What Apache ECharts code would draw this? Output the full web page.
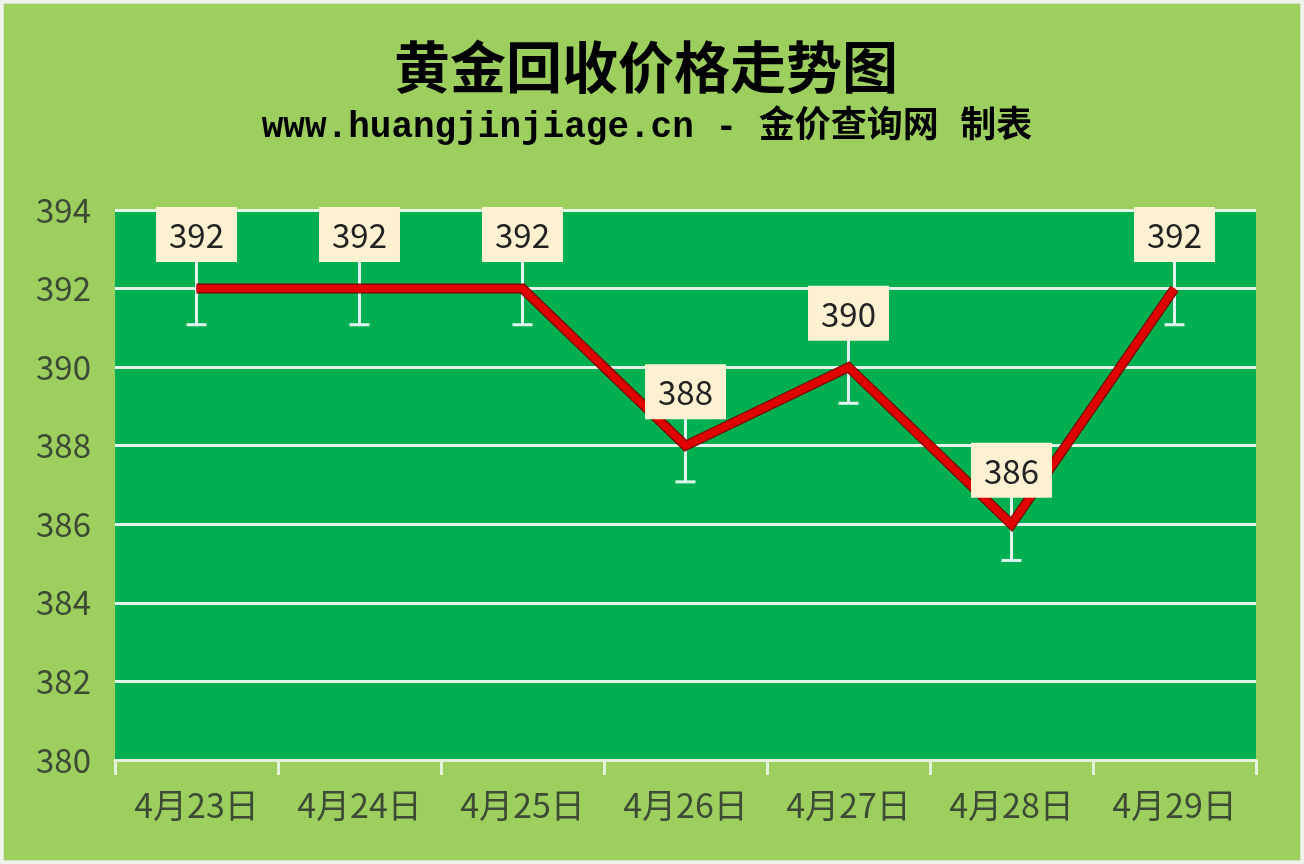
<!DOCTYPE html>
<html>
<head>
<meta charset="utf-8">
<title>黄金回收价格走势图</title>
<script src="https://cdn.jsdelivr.net/npm/echarts@6/dist/echarts.min.js"></script>
<style>
  html, body { margin: 0; padding: 0; background: #eef2ea; }
  #main { position: absolute; left: 3px; top: 3px; width: 1296px; height: 856px;
          border: 1px solid #d6e6cc; background: #9dcf5f; }
</style>
</head>
<body>
<div id="main"></div>
<script>
// 数据
var days = ['4月23日', '4月24日', '4月25日', '4月26日', '4月27日', '4月28日', '4月29日'];
var prices = [392, 392, 392, 388, 390, 386, 392];
// 误差线长度(上下各)
var errSize = 0.92;

var chart = echarts.init(document.getElementById('main'));

var option = {
  backgroundColor: '#9dcf5f',
  title: [{
    text: '黄金回收价格走势图',
    left: 637,
    top: 30,
    textAlign: 'center',
    textStyle: {
      fontFamily: 'Noto Sans CJK SC',
      fontWeight: 'bold',
      fontSize: 56,
      color: '#000'
    }
  }, {
    text: 'www.huangjinjiage.cn - 金价查询网 制表',
    left: 638,
    top: 101,
    textAlign: 'center',
    textStyle: {
      fontFamily: '"Liberation Mono", "Noto Sans CJK SC"',
      fontWeight: 'bold',
      fontSize: 36,
      color: '#000'
    }
  }],
  grid: {
    left: 111,
    right: 44,
    top: 206,
    bottom: 100,
    show: true,
    backgroundColor: '#00b050',
    borderWidth: 0
  },
  xAxis: {
    type: 'category',
    data: days,
    boundaryGap: true,
    axisLine: { lineStyle: { color: '#e4f2dc', width: 3 } },
    axisTick: { show: true, length: 15, lineStyle: { color: '#e4f2dc', width: 3 } },
    axisLabel: {
      fontSize: 34,
      color: '#3d4a35',
      fontFamily: 'Noto Sans CJK SC',
      margin: 28
    }
  },
  yAxis: {
    type: 'value',
    min: 380,
    max: 394,
    interval: 2,
    axisLine: { show: false },
    axisTick: { show: false },
    axisLabel: {
      fontSize: 33,
      color: '#3d4a35',
      fontFamily: 'Noto Sans CJK SC',
      margin: 24
    },
    splitLine: { lineStyle: { color: '#e2f6ea', width: 3 } }
  },
  series: [{
    // 误差线
    type: 'custom',
    z: 3,
    data: prices.map(function (v, i) { return [i, v]; }),
    renderItem: function (params, api) {
      var x = api.value(0);
      var v = api.value(1);
      var top = api.coord([x, v + errSize]);
      var bot = api.coord([x, v - errSize]);
      var cap = 10;
      var style = { stroke: '#dff4ee', lineWidth: 3 };
      return {
        type: 'group',
        children: [
          { type: 'line', shape: { x1: top[0], y1: top[1], x2: bot[0], y2: bot[1] }, style: style },
          { type: 'line', shape: { x1: top[0] - cap, y1: top[1], x2: top[0] + cap, y2: top[1] }, style: style },
          { type: 'line', shape: { x1: bot[0] - cap, y1: bot[1], x2: bot[0] + cap, y2: bot[1] }, style: style }
        ]
      };
    }
  }, {
    // 折线阴影边
    type: 'line',
    data: prices,
    z: 4,
    symbol: 'none',
    silent: true,
    lineStyle: { color: '#8a0000', width: 10, join: 'miter' }
  }, {
    type: 'line',
    data: prices,
    z: 5,
    symbol: 'circle',
    symbolSize: 1,
    itemStyle: { color: '#d80000' },
    lineStyle: { color: '#e00000', width: 7, join: 'miter' },
    label: {
      show: true,
      position: 'top',
      distance: 26,
      fontSize: 33,
      color: '#222',
      fontFamily: 'Noto Sans CJK SC',
      backgroundColor: '#fdf1d2',
      padding: [12, 13, 10, 13]
    }
  }]
};

chart.setOption(option);
</script>
</body>
</html>
